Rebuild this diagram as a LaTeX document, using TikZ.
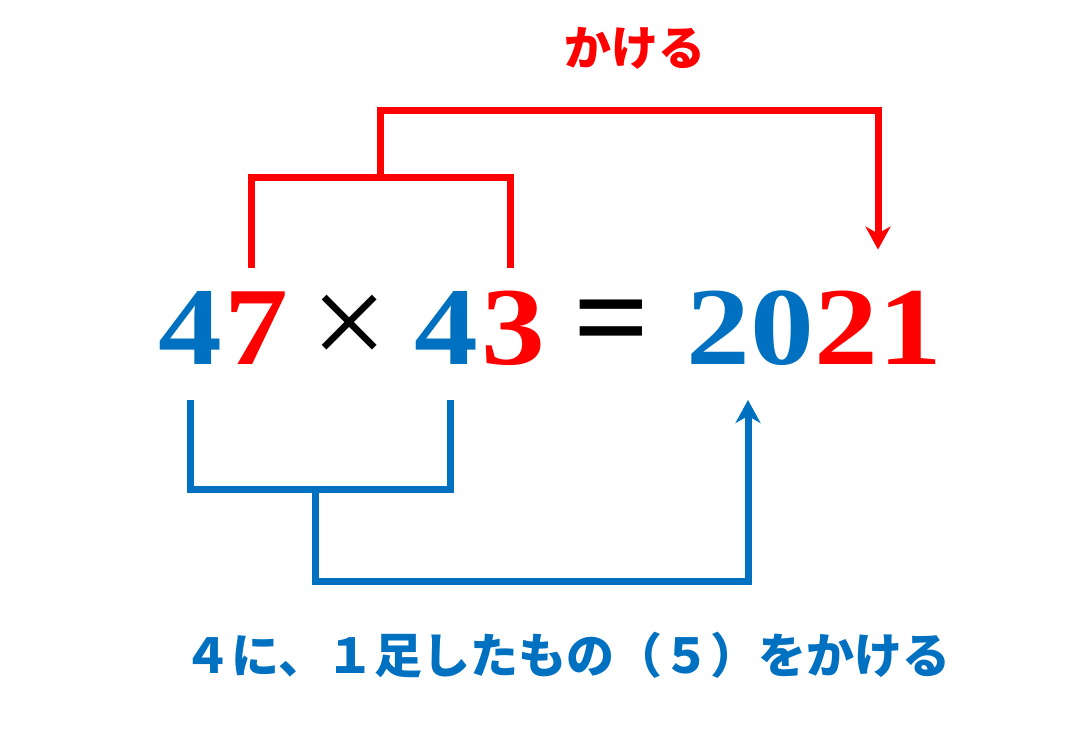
\documentclass[tikz,border=0pt]{standalone}
\usepackage{fontspec}
\usetikzlibrary{arrows.meta}

\newfontfamily\digitfont{Liberation Serif}[FakeStretch=1.15]
\newfontfamily\signfont{Liberation Serif}
\newfontfamily\jpfont{Noto Sans CJK JP}
\definecolor{kblue}{RGB}{0,112,192}
\definecolor{kred}{RGB}{255,0,0}

\begin{document}
\begin{tikzpicture}[
    x = 1pt, y = -1pt,
    digit/.style = {font=\digitfont\bfseries\fontsize{111}{111}\selectfont, inner sep=0pt, text height=75pt, text depth=0pt, anchor=south},
    sign/.style = {inner sep=0pt, anchor=center},
    note/.style = {font=\jpfont\bfseries\fontsize{47}{47}\selectfont, inner sep=0pt},
    link/.style = {line width=7pt, line join=miter},
    linkarrow/.style = {link, -{Stealth[length=23pt, width=25pt, inset=7pt]}}
]
\useasboundingbox (0,0) rectangle (1081,737);

% Define nodes
\node[digit, kblue] (n4a) at (190,365) {4};
\node[digit, kred] (n7) at (256,365) {7};
\node[sign, font=\signfont\fontsize{135}{135}\selectfont] (times) at (350,331) {×};
\node[digit, kblue] (n4b) at (446,365) {4};
\node[digit, kred] (n3) at (513,365) {3};
\node[sign, font=\signfont\bfseries\fontsize{134}{134}\selectfont] (eq) at (612,331) {=};
\node[digit, kblue] (n20) at (750,365) {20};
\node[digit, kred] (n21) at (878,365) {21};

\node[note, kred] (kakeru) at (635,48) {かける};
\node[note, kblue, font=\jpfont\bfseries\fontsize{48}{48}\selectfont] (rule) at (567,655) {４に、１足したもの（５）をかける};

\coordinate (rjoin) at (380,177);
\coordinate (rtop) at (380,110);
\coordinate (bjoin) at (315,489);
\coordinate (bbottom) at (315,581);

% Draw arrows
\draw[link, kred] ([xshift=-5pt, yshift=22pt]n7.north) |- (rjoin) -| ([xshift=-3pt, yshift=22pt]n3.north);
\draw[linkarrow, kred] (rjoin) -- (rtop) -| ([yshift=40pt]n21.north);
\draw[link, kblue] ([yshift=-35pt]n4a.south) |- (bjoin) -| ([xshift=4pt, yshift=-35pt]n4b.south);
\draw[linkarrow, kblue] (bjoin) -- (bbottom) -| ([xshift=-2pt, yshift=-35pt]n20.south);

\end{tikzpicture}
\end{document}
